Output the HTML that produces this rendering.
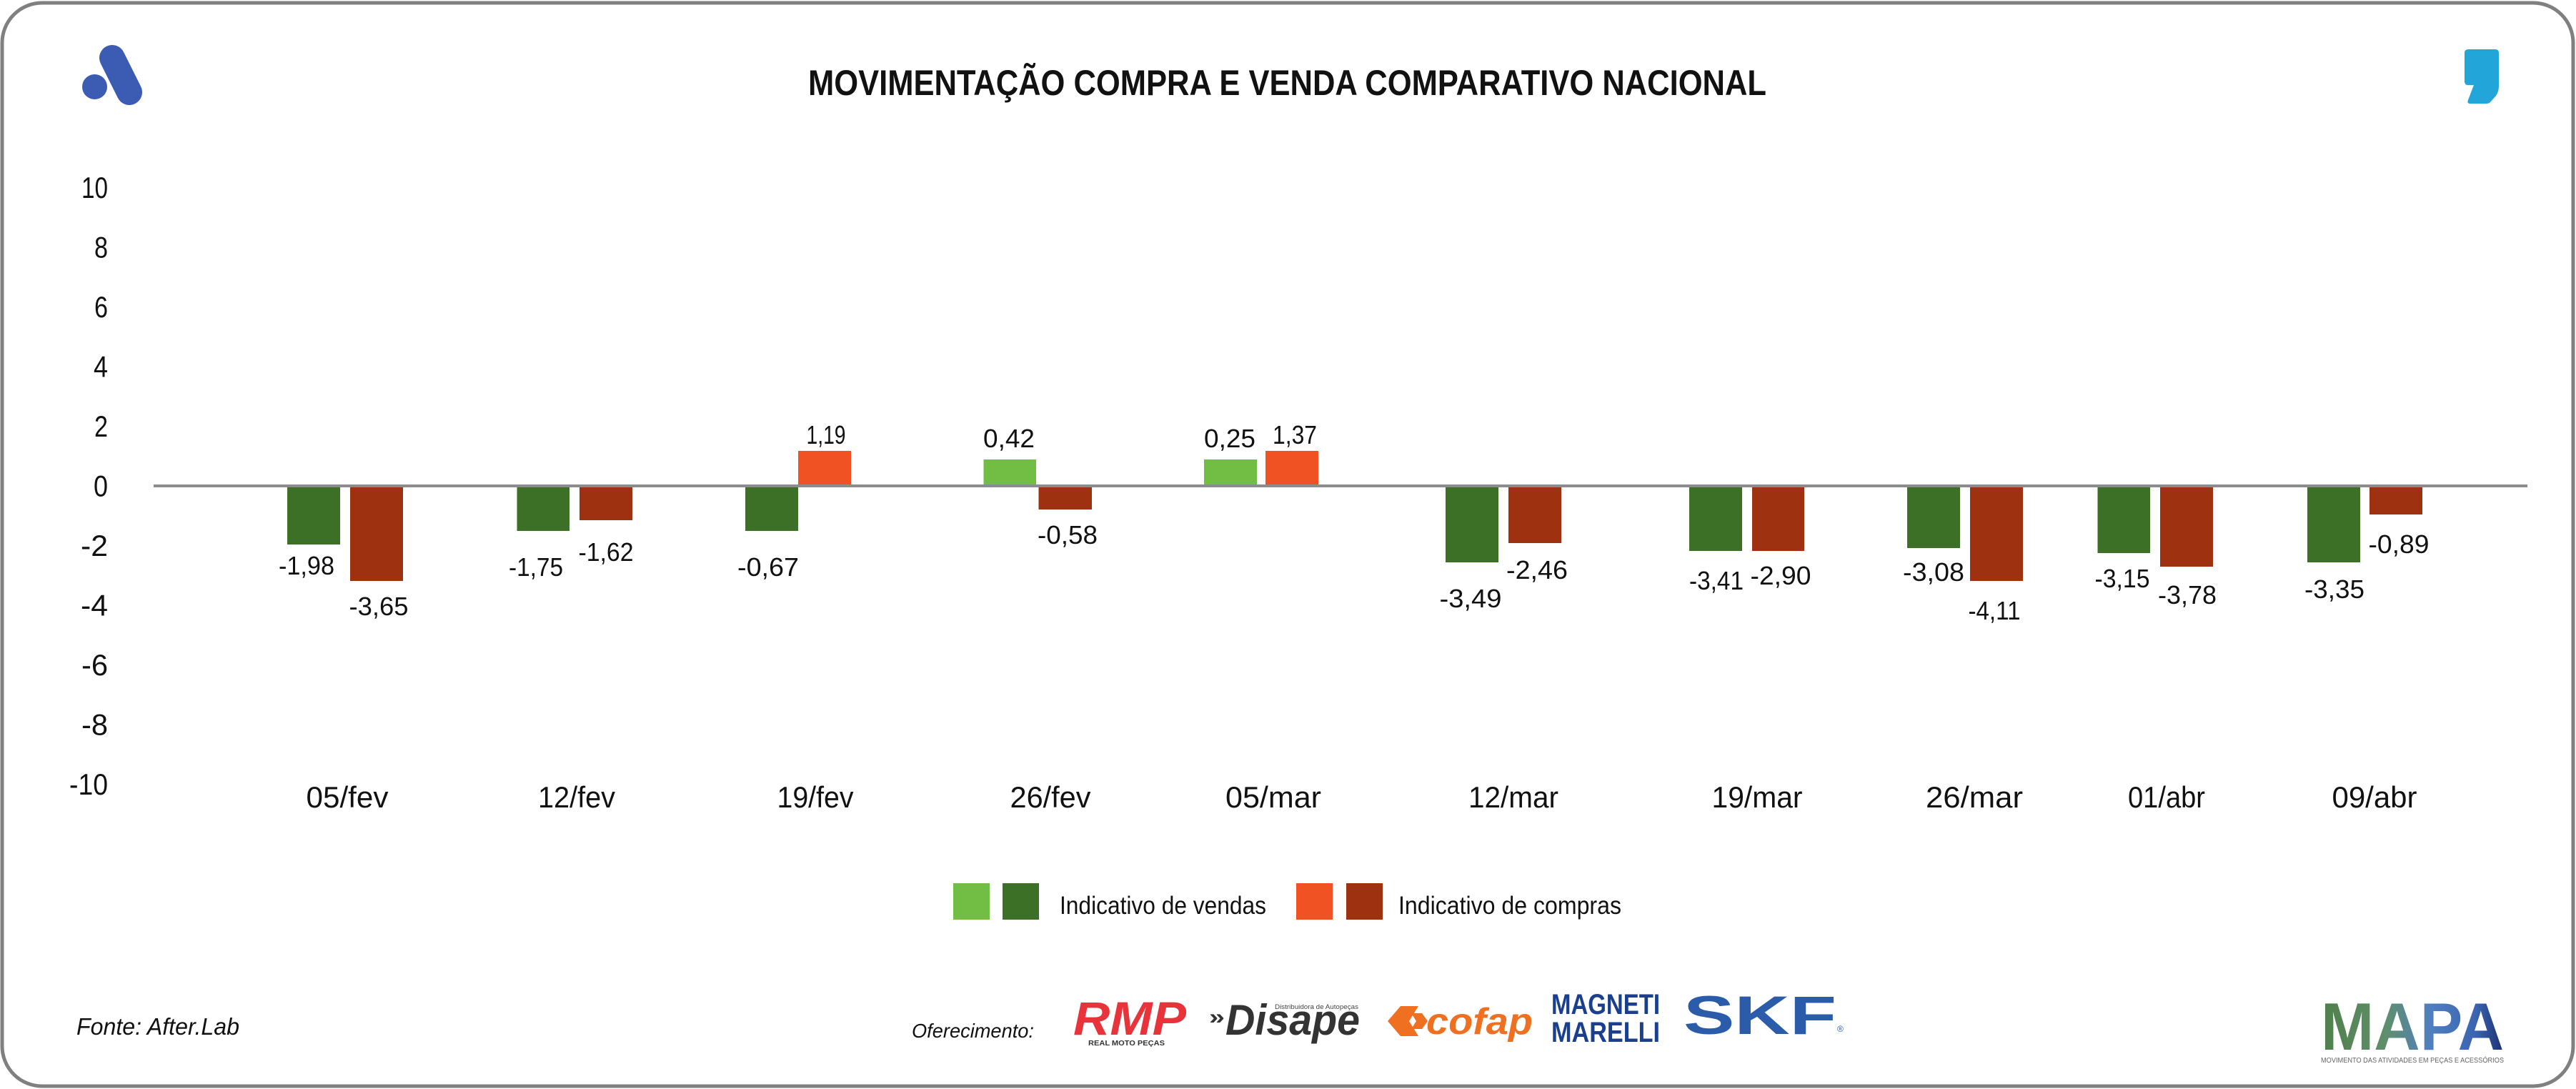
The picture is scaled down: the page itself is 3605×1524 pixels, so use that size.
<!DOCTYPE html>
<html>
<head>
<meta charset="utf-8">
<style>
html,body{margin:0;padding:0;background:#fff;}
svg{display:block;}
</style>
</head>
<body>
<svg width="3605" height="1524" viewBox="0 0 3605 1524" xmlns="http://www.w3.org/2000/svg" font-family="'Liberation Sans', sans-serif">
<defs>
<linearGradient id="mapag" x1="0" y1="0" x2="1" y2="0">
<stop offset="0" stop-color="#4f7f4a"/>
<stop offset="0.35" stop-color="#5f8f6a"/>
<stop offset="0.6" stop-color="#4f7fc0"/>
<stop offset="0.85" stop-color="#3a64b0"/>
<stop offset="1" stop-color="#1c2f70"/>
</linearGradient>
</defs>
<rect x="0" y="0" width="3605" height="1524" fill="#ffffff"/>
<rect x="3" y="4" width="3598" height="1516" rx="56" ry="56" fill="#ffffff" stroke="#808080" stroke-width="5"/>

<!-- left logo -->
<circle cx="132.5" cy="121.5" r="17.5" fill="#3c5cb4"/>
<line x1="157" y1="81" x2="181" y2="129" stroke="#3c5cb4" stroke-width="36" stroke-linecap="round"/>

<!-- right comma logo -->
<path d="M3455 69 L3492 69 Q3497 69 3497 74 L3497 121 Q3497 128 3493 134 L3485 143 Q3483 145 3479 145 L3457 145 Q3452 145 3454 140 L3462 119 L3454 119 Q3449 119 3449 114 L3449 74 Q3449 69 3455 69 Z" fill="#22a5d9"/>

<!-- title -->
<text x="1131" y="133" font-size="50" font-weight="bold" fill="#111" textLength="1341" lengthAdjust="spacingAndGlyphs">MOVIMENTAÇÃO COMPRA E VENDA COMPARATIVO NACIONAL</text>

<!-- y tick labels -->
<g font-size="42" fill="#111" text-anchor="end">
<text x="151" y="277" textLength="37" lengthAdjust="spacingAndGlyphs">10</text>
<text x="151" y="360.5" textLength="19" lengthAdjust="spacingAndGlyphs">8</text>
<text x="151" y="444" textLength="19" lengthAdjust="spacingAndGlyphs">6</text>
<text x="151" y="527.5" textLength="20" lengthAdjust="spacingAndGlyphs">4</text>
<text x="151" y="611" textLength="19" lengthAdjust="spacingAndGlyphs">2</text>
<text x="151" y="694.5" textLength="20" lengthAdjust="spacingAndGlyphs">0</text>
<text x="151" y="778" textLength="38" lengthAdjust="spacingAndGlyphs">-2</text>
<text x="151" y="861.5" textLength="38" lengthAdjust="spacingAndGlyphs">-4</text>
<text x="151" y="945" textLength="37" lengthAdjust="spacingAndGlyphs">-6</text>
<text x="151" y="1028.5" textLength="37" lengthAdjust="spacingAndGlyphs">-8</text>
<text x="151" y="1112" textLength="54" lengthAdjust="spacingAndGlyphs">-10</text>
</g>

<!-- bars -->
<g>
<rect x="402" y="680" width="74" height="82" fill="#3b7026"/>
<rect x="490" y="680" width="74" height="133" fill="#9e3210"/>

<rect x="723.5" y="680" width="73.5" height="63" fill="#3b7026"/>
<rect x="811" y="680" width="74" height="48" fill="#9e3210"/>

<rect x="1043" y="680" width="74" height="63" fill="#3b7026"/>
<rect x="1117" y="631" width="74" height="49" fill="#f05223"/>

<rect x="1376.5" y="643" width="73.5" height="37" fill="#72be44"/>
<rect x="1453.5" y="680" width="74.5" height="33" fill="#9e3210"/>

<rect x="1685" y="643" width="74" height="37" fill="#72be44"/>
<rect x="1771" y="631" width="74" height="49" fill="#f05223"/>

<rect x="2023" y="680" width="74" height="107" fill="#3b7026"/>
<rect x="2111" y="680" width="74" height="80" fill="#9e3210"/>

<rect x="2364" y="680" width="74" height="91" fill="#3b7026"/>
<rect x="2452" y="680" width="73" height="91" fill="#9e3210"/>

<rect x="2669" y="680" width="74" height="87" fill="#3b7026"/>
<rect x="2757" y="680" width="74" height="133" fill="#9e3210"/>

<rect x="2935.5" y="680" width="73.5" height="94" fill="#3b7026"/>
<rect x="3023" y="680" width="74" height="113" fill="#9e3210"/>

<rect x="3229" y="680" width="74" height="107" fill="#3b7026"/>
<rect x="3316" y="680" width="74" height="40" fill="#9e3210"/>
</g>

<!-- zero line -->
<rect x="215" y="678" width="3322" height="4" fill="#8c8c8c"/>

<!-- data labels -->
<g font-size="36" fill="#111" text-anchor="middle" lengthAdjust="spacingAndGlyphs">
<text x="429" y="804" textLength="78" lengthAdjust="spacingAndGlyphs">-1,98</text>
<text x="530" y="861" textLength="83" lengthAdjust="spacingAndGlyphs">-3,65</text>
<text x="750" y="806" textLength="76" lengthAdjust="spacingAndGlyphs">-1,75</text>
<text x="848" y="785" textLength="77" lengthAdjust="spacingAndGlyphs">-1,62</text>
<text x="1075" y="806" textLength="86" lengthAdjust="spacingAndGlyphs">-0,67</text>
<text x="1156" y="621" textLength="55" lengthAdjust="spacingAndGlyphs">1,19</text>
<text x="1412" y="626" textLength="72" lengthAdjust="spacingAndGlyphs">0,42</text>
<text x="1494" y="761" textLength="84" lengthAdjust="spacingAndGlyphs">-0,58</text>
<text x="1721" y="626" textLength="72" lengthAdjust="spacingAndGlyphs">0,25</text>
<text x="1812" y="621" textLength="62" lengthAdjust="spacingAndGlyphs">1,37</text>
<text x="2058" y="850" textLength="87" lengthAdjust="spacingAndGlyphs">-3,49</text>
<text x="2151" y="810" textLength="86" lengthAdjust="spacingAndGlyphs">-2,46</text>
<text x="2402" y="825" textLength="76" lengthAdjust="spacingAndGlyphs">-3,41</text>
<text x="2492" y="818" textLength="85" lengthAdjust="spacingAndGlyphs">-2,90</text>
<text x="2706" y="813" textLength="86" lengthAdjust="spacingAndGlyphs">-3,08</text>
<text x="2791" y="867" textLength="73" lengthAdjust="spacingAndGlyphs">-4,11</text>
<text x="2970" y="822" textLength="77" lengthAdjust="spacingAndGlyphs">-3,15</text>
<text x="3061" y="845" textLength="82" lengthAdjust="spacingAndGlyphs">-3,78</text>
<text x="3267" y="837" textLength="84" lengthAdjust="spacingAndGlyphs">-3,35</text>
<text x="3357" y="774" textLength="85" lengthAdjust="spacingAndGlyphs">-0,89</text>
</g>

<!-- category labels -->
<g font-size="42" fill="#111" text-anchor="middle">
<text x="486" y="1130" textLength="115" lengthAdjust="spacingAndGlyphs">05/fev</text>
<text x="807" y="1130" textLength="108" lengthAdjust="spacingAndGlyphs">12/fev</text>
<text x="1141" y="1130" textLength="107" lengthAdjust="spacingAndGlyphs">19/fev</text>
<text x="1470" y="1130" textLength="113" lengthAdjust="spacingAndGlyphs">26/fev</text>
<text x="1782" y="1130" textLength="134" lengthAdjust="spacingAndGlyphs">05/mar</text>
<text x="2118" y="1130" textLength="126" lengthAdjust="spacingAndGlyphs">12/mar</text>
<text x="2459" y="1130" textLength="127" lengthAdjust="spacingAndGlyphs">19/mar</text>
<text x="2763" y="1130" textLength="136" lengthAdjust="spacingAndGlyphs">26/mar</text>
<text x="3032" y="1130" textLength="108" lengthAdjust="spacingAndGlyphs">01/abr</text>
<text x="3323" y="1130" textLength="119" lengthAdjust="spacingAndGlyphs">09/abr</text>
</g>

<!-- legend -->
<rect x="1334" y="1236" width="51" height="51" fill="#72be44"/>
<rect x="1403" y="1236" width="51" height="51" fill="#3b7026"/>
<text x="1483" y="1279" font-size="35" fill="#111" textLength="289" lengthAdjust="spacingAndGlyphs">Indicativo de vendas</text>
<rect x="1814" y="1236" width="51" height="51" fill="#f05223"/>
<rect x="1884" y="1236" width="51" height="51" fill="#9e3210"/>
<text x="1957" y="1279" font-size="35" fill="#111" textLength="312" lengthAdjust="spacingAndGlyphs">Indicativo de compras</text>

<!-- footer -->
<text x="107" y="1448" font-size="33" font-style="italic" fill="#111" textLength="228" lengthAdjust="spacingAndGlyphs">Fonte: After.Lab</text>
<text x="1276" y="1452" font-size="28" font-style="italic" fill="#111" textLength="171" lengthAdjust="spacingAndGlyphs">Oferecimento:</text>

<!-- RMP -->
<text x="1502" y="1448" font-size="66" font-weight="bold" font-style="italic" fill="#e8333a" textLength="158" lengthAdjust="spacingAndGlyphs">RMP</text>
<text x="1523" y="1463" font-size="10" font-weight="bold" fill="#333" textLength="107" lengthAdjust="spacingAndGlyphs">REAL MOTO PEÇAS</text>

<!-- Disape -->
<text x="1692" y="1433" font-size="30" font-weight="bold" fill="#333" textLength="22" lengthAdjust="spacingAndGlyphs">»</text>
<text x="1715" y="1448" font-size="60" font-weight="bold" font-style="italic" fill="#333" textLength="188" lengthAdjust="spacingAndGlyphs">Disape</text>
<text x="1784" y="1412" font-size="9" fill="#444" textLength="117" lengthAdjust="spacingAndGlyphs">Distribuidora de Autopeças</text>

<!-- cofap -->
<path d="M1960 1408 L1985 1408 L1972 1429 L1985 1450 L1960 1450 L1942 1429 Z" fill="#f07022"/>
<path d="M1975 1418 L1990 1418 L1998 1429 L1990 1440 L1975 1440 L1982 1429 Z" fill="#f07022"/>
<text x="1996" y="1447" font-size="52" font-weight="bold" font-style="italic" fill="#f07022" textLength="149" lengthAdjust="spacingAndGlyphs">cofap</text>

<!-- Magneti Marelli -->
<text x="2171" y="1419" font-size="40" font-weight="bold" fill="#1b3f8f" textLength="152" lengthAdjust="spacingAndGlyphs">MAGNETI</text>
<text x="2171" y="1458" font-size="40" font-weight="bold" fill="#1b3f8f" textLength="152" lengthAdjust="spacingAndGlyphs">MARELLI</text>

<!-- SKF -->
<text x="2356" y="1447" font-size="76" font-weight="bold" fill="#2a5caa" textLength="214" lengthAdjust="spacingAndGlyphs">SKF</text>
<text x="2571" y="1444" font-size="12" fill="#2a5caa">®</text>

<!-- MAPA -->
<text x="3248" y="1469" font-size="94" font-weight="bold" fill="url(#mapag)" textLength="256" lengthAdjust="spacingAndGlyphs">MAPA</text>
<text x="3248" y="1487" font-size="10" fill="#666" textLength="256" lengthAdjust="spacingAndGlyphs">MOVIMENTO DAS ATIVIDADES EM PEÇAS E ACESSÓRIOS</text>
</svg>
</body>
</html>
